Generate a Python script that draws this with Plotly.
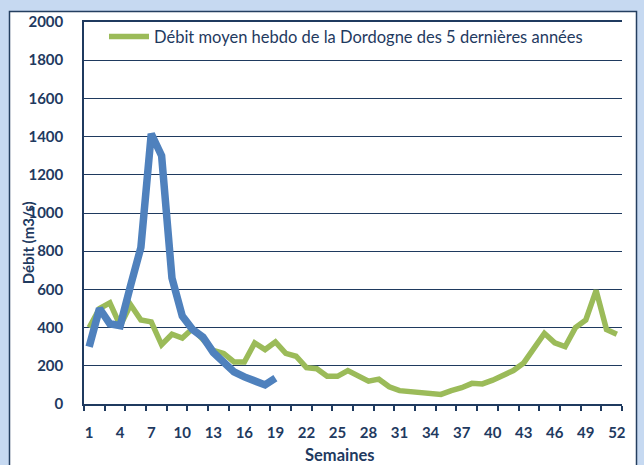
import plotly.graph_objects as go

weeks = list(range(1, 53))
moyenne_5ans = [400, 500, 530, 410, 520, 440, 430, 310, 365, 345,
                395, 340, 280, 265, 220, 220, 320, 285, 325, 265,
                250, 190, 185, 145, 145, 175, 150, 120, 130, 90,
                70, 65, 58, 52, 50, 70, 85, 108, 105, 125,
                150, 175, 215, 290, 370, 320, 300, 400, 440, 595,
                390, 365]
weeks_annee = list(range(1, 20))
annee_en_cours = [300, 500, 420, 410, 620, 820, 1415, 1300, 660, 460,
                  390, 350, 270, 220, 168, 142, 116, 100, 135]
x_ticklabels = [str(w) for w in range(1, 53, 3)]
y_ticks = list(range(0, 2001, 200))

NAVY = "#1f3a5f"
FONT = "Lato"

fig = go.Figure()
fig.add_trace(go.Scatter(
    x=weeks, y=moyenne_5ans, mode="lines",
    name="Débit moyen hebdo de la Dordogne des 5 dernières années",
    line=dict(color="#9bbb59", width=5.5),
))
fig.add_trace(go.Scatter(
    x=weeks_annee, y=annee_en_cours, mode="lines",
    name="Débit hebdo de l'année en cours", showlegend=False,
    line=dict(color="#4f81bd", width=7.5),
))

L, R, T, B = 84, 22, 19, 61
W, H = 644, 465
pw, ph = W - L - R, H - T - B

def px_x(p):
    return (p - L) / pw

def px_y(p):
    return 1 - (p - T) / ph

fig.add_shape(type="rect", xref="paper", yref="paper", layer="below",
              x0=px_x(9.5), x1=px_x(636.5), y0=px_y(475), y1=px_y(8.5),
              fillcolor="white", line=dict(color="#243f60", width=1.5))

fig.update_layout(
    width=W, height=H,
    margin=dict(l=L, r=R, t=T, b=B),
    paper_bgcolor="#c6d9f1",
    plot_bgcolor="white",
    font=dict(family=FONT, color=NAVY),
    showlegend=True,
    legend=dict(x=px_x(104), y=px_y(34), xanchor="left", yanchor="middle",
                bgcolor="rgba(0,0,0,0)", font=dict(family=FONT, size=16.5, color=NAVY),
                itemwidth=40),
    xaxis=dict(
        range=[0.5, 52.5],
        tickmode="array",
        tickvals=list(range(1, 53, 3)),
        ticktext=x_ticklabels,
        ticks="",
        ticklabelstandoff=14,
        tickfont=dict(family=FONT, size=15, color=NAVY, weight="bold"),
        showgrid=False,
        showline=True, linecolor=NAVY, linewidth=1.5, mirror=True,
        zeroline=False,
        minor=dict(tickvals=[w + 0.5 for w in range(0, 53, 2)],
                   ticks="outside", ticklen=5, tickcolor=NAVY, tickwidth=1.5,
                   showgrid=False),
    ),
    yaxis=dict(
        range=[0, 2000],
        tickmode="array",
        tickvals=y_ticks,
        ticks="",
        ticklabelstandoff=16,
        tickfont=dict(family=FONT, size=15, color=NAVY, weight="bold"),
        showgrid=True, gridcolor=NAVY, gridwidth=1,
        showline=True, linecolor=NAVY, linewidth=1.5,
        zeroline=False,
    ),
    annotations=[
        dict(text="<b>Débit (m3/s)</b>", xref="paper", yref="paper",
             x=px_x(28), y=px_y(242), textangle=-90, showarrow=False,
             font=dict(family=FONT, size=15, color=NAVY),
             xanchor="center", yanchor="middle"),
        dict(text="<b>Semaines</b>", xref="paper", yref="paper",
             x=px_x(340), y=px_y(455), showarrow=False,
             font=dict(family=FONT, size=16.5, color=NAVY),
             xanchor="center", yanchor="middle"),
    ],
)

fig.write_html("out.html", config={"displayModeBar": False},
               post_script="document.body.style.margin='0';document.body.style.overflow='hidden';")
